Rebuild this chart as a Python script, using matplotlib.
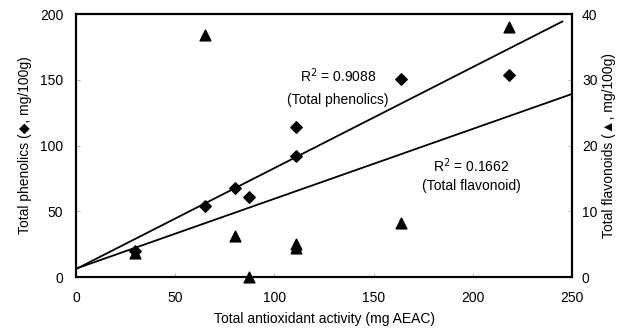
import numpy as np
import matplotlib
matplotlib.use("Agg")
import matplotlib.pyplot as plt

plt.rcParams['font.family'] = ['Liberation Sans', 'DejaVu Sans']

# total antioxidant activity (mg AEAC)
aeac_phen = [30, 65, 80, 87, 111, 111, 164, 218]
phenolics = [20, 54, 68, 61, 92, 114, 151, 154]

aeac_flav = [30, 65, 80, 87, 111, 111, 164, 218]
flavonoids = [3.7, 36.8, 6.2, 0.0, 5.0, 4.4, 8.2, 38.0]

x_ticks = [0, 50, 100, 150, 200, 250]
left_ticks = [0, 50, 100, 150, 200]
right_ticks = [0, 10, 20, 30, 40]

fig = plt.figure(figsize=(6.22, 3.29), dpi=100)
ax = fig.add_axes([0.122, 0.158, 0.798, 0.799])
ax2 = ax.twinx()

# fitted lines
p_fit = np.polyfit(aeac_phen, phenolics, 1)
f_fit = np.polyfit(aeac_flav, flavonoids, 1)
xp = np.array([0, 245])
xf = np.array([0, 250])
ax.plot(xp, np.polyval(p_fit, xp), color='black', lw=1.3, zorder=2)
ax2.plot(xf, np.polyval(f_fit, xf), color='black', lw=1.3, zorder=2)

ax.scatter(aeac_phen, phenolics, marker='D', s=34, color='black', zorder=3,
           clip_on=False)
ax2.scatter(aeac_flav, flavonoids, marker='^', s=60, color='black', zorder=3,
            clip_on=False)

ax.set_xlim(0, 250)
ax.set_ylim(0, 200)
ax2.set_ylim(0, 40)
ax.set_xticks(x_ticks)
ax.set_yticks(left_ticks)
ax2.set_yticks(right_ticks)

for a in (ax, ax2):
    a.tick_params(direction='in', length=3, width=0.5, color='#999999',
                  labelsize=10)
    for s in a.spines.values():
        s.set_linewidth(1.5)
ax.tick_params(axis='x', pad=10)
ax.tick_params(axis='y', pad=9)
ax2.tick_params(axis='y', pad=7)

ax.text(132, 153, 'R$^2$ = 0.9088', ha='center', va='center', fontsize=10)
ax.text(132, 135, '(Total phenolics)', ha='center', va='center', fontsize=10)
ax.text(199, 85, 'R$^2$ = 0.1662', ha='center', va='center', fontsize=10)
ax.text(199, 69, '(Total flavonoid)', ha='center', va='center', fontsize=10)

ax.set_xlabel('Total antioxidant activity (mg AEAC)', fontsize=10, labelpad=5)
ax.set_ylabel('Total phenolics (◆, mg/100g)', fontsize=10, labelpad=6)
ax2.set_ylabel('Total flavonoids (▲, mg/100g)', fontsize=10, labelpad=3)

fig.savefig('out.png', dpi=100)
